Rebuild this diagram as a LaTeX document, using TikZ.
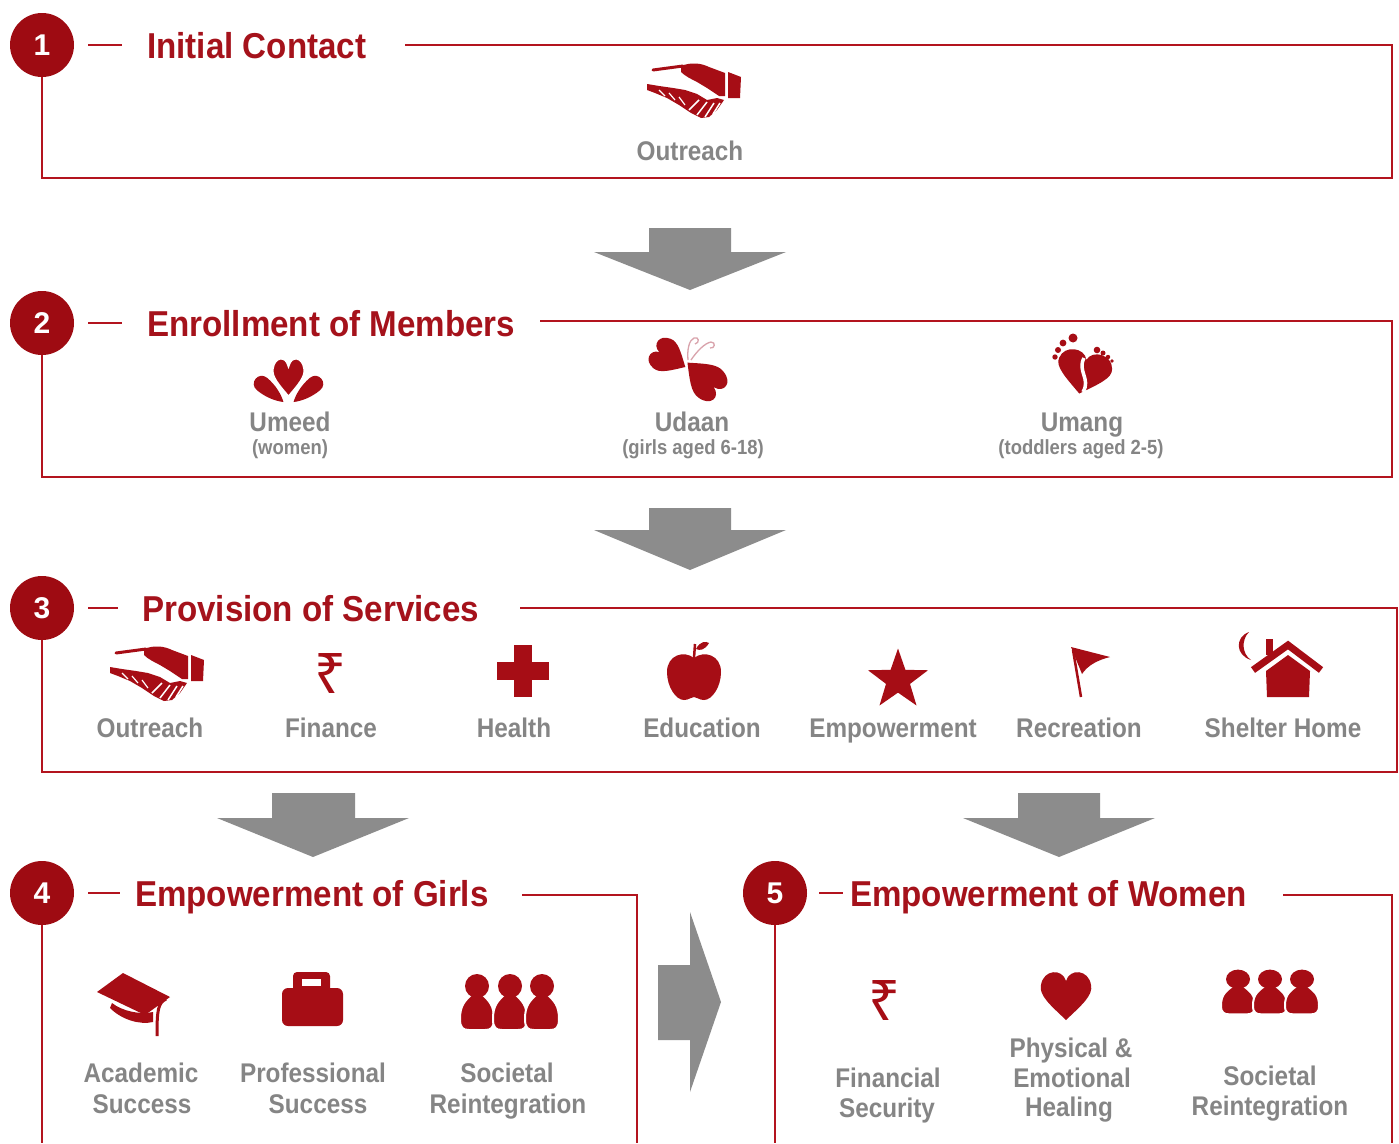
\documentclass[tikz,border=0pt]{standalone}
\usepackage{fontspec}
\setmainfont{Liberation Sans}
\newfontfamily\rupfont{Noto Sans}
\usetikzlibrary{shapes.geometric}
\definecolor{boxred}{HTML}{B3141E}
\definecolor{numred}{HTML}{9E0B12}
\definecolor{titred}{HTML}{A5121B}
\definecolor{iconred}{HTML}{A60D15}
\definecolor{labgray}{HTML}{858585}
\definecolor{arrgray}{HTML}{8C8C8C}
\definecolor{antpink}{HTML}{D9A3AC}
\newcommand{\sxx}[1]{\scalebox{0.9}[1]{#1}}
\newcommand{\sxt}[1]{\scalebox{0.92}[1]{#1}}
\newcommand{\heartshape}[1]{\path[#1] (0,1) .. controls (-0.6,0.45) and (-1.1,0.05) .. (-1,-0.35) .. controls (-0.9,-0.95) and (-0.15,-1.0) .. (0,-0.5) .. controls (0.15,-1.0) and (0.9,-0.95) .. (1,-0.35) .. controls (1.1,0.05) and (0.6,0.45) .. (0,1) -- cycle;}
\newcommand{\personshape}{%
  \path[fill=iconred,draw=white,line width=2pt] (-6,8) .. controls (-12,14) and (-17,18) .. (-17,32) .. controls (-17,41) and (-14,43) .. (-8,43) -- (8,43) .. controls (14,43) and (17,41) .. (17,32) .. controls (17,18) and (12,14) .. (6,8) -- cycle;
  \path[fill=iconred] (0,-1) circle[radius=12];}
\newcommand{\handshape}{%
  \draw[iconred, line width=3pt, line cap=round] (-42,-18) -- (-12,-22);
  \fill[iconred] (-14,-22) .. controls (-4,-26) and (6,-25) .. (14,-21) -- (30,-15) -- (30,8) -- (24,8) -- (12,0) -- (2,-6) .. controls (-4,-9) and (-10,-12) .. (-14,-16) -- cycle;
  \fill[iconred] (33,-16) -- (46,-11) -- (45,10) -- (33,10) -- cycle;
  \fill[iconred] (-48,2) -- (-40,5) -- (-28,10) -- (-16,17) -- (-4,25) -- (6,30) -- (14,29) -- (22,22) -- (29,12) -- (22,10) -- (12,12) -- (2,6) -- (-10,2) -- (-22,0) -- (-36,-2) -- (-48,-4) -- cycle;
  \draw[white, line width=1.5pt] (-6,22) -- (4,12) (2,27) -- (12,14) (10,29) -- (19,15) (18,26) -- (25,15);
  \draw[white, line width=1.2pt] (-36,2) -- (-30,8) (-26,5) -- (-20,12) (-16,9) -- (-10,17);}
\begin{document}
\begin{tikzpicture}[x=1pt,y=-1pt,
  numc/.style={circle,fill=numred,minimum size=64pt,inner sep=0pt,text=white,font=\bfseries\fontsize{30}{30}\selectfont},
  titlenode/.style={anchor=base west,inner sep=0pt,text=titred,font=\bfseries\fontsize{36}{36}\selectfont},
  boxline/.style={draw=boxred,line width=2.6pt},
  lab/.style={anchor=base,inner sep=0pt,text=labgray,font=\bfseries\fontsize{27}{30}\selectfont},
  sublab/.style={anchor=base,inner sep=0pt,text=labgray,font=\bfseries\fontsize{20.5}{22}\selectfont},
  rupee/.style={inner sep=0pt,text=iconred,font=\rupfont\fontsize{56}{56}\selectfont},
  bigarrow/.style={fill=arrgray}
]
\fill[white] (0,0) rectangle (1399,1143);
\useasboundingbox (0,0) rectangle (1399,1143);

% ---------- Box 1
\node[numc] (n1) at (42,45) {1};
\node[titlenode] (t1) at (147,58) {\sxt{Initial Contact}};
\coordinate (r1) at (405,45);
\coordinate (c1) at (1392,178);
\draw[boxline] ([xshift=14pt]n1.east) -- +(34,0);
\draw[boxline] (r1) -| (c1) -| (n1.south);
\begin{scope}[shift={(695,88)}] \handshape \end{scope}
\node[lab] (o1) at (690,160) {\sxx{Outreach}};

% arrow 1
\fill[bigarrow] (649,228) -- (731,228) -- (731,252) -- (786,252) -- (690,290) -- (594,252) -- (649,252) -- cycle;

% ---------- Box 2
\node[numc] (n2) at (42,323) {2};
\node[titlenode] (t2) at (147,336) {\sxt{Enrollment of Members}};
\coordinate (r2) at (540,321);
\coordinate (c2) at (1392,477);
\draw[boxline] ([xshift=14pt]n2.east) -- +(34,0);
\draw[boxline] (r2) -| (c2) -| (n2.south);

% Umeed icon
\begin{scope}[shift={(262,384)}, rotate=-40]
  \fill[iconred] (0,-8) .. controls (12,-8) and (22,-4) .. (28,0) .. controls (22,4) and (12,8) .. (0,8) .. controls (-11,8) and (-11,-8) .. (0,-8) -- cycle;
\end{scope}
\begin{scope}[shift={(315,384)}, rotate=-140]
  \fill[iconred] (0,-8) .. controls (12,-8) and (22,-4) .. (28,0) .. controls (22,4) and (12,8) .. (0,8) .. controls (-11,8) and (-11,-8) .. (0,-8) -- cycle;
\end{scope}
\begin{scope}[shift={(288.5,376)}, xscale=16, yscale=21]
  \heartshape{fill=iconred, draw=white, line width=2.5pt}
\end{scope}
\node[lab] (u1) at (290,431) {\sxx{Umeed}};
\node[sublab] (u1s) at (290,454) {\sxx{(women)}};

% Udaan butterfly
\draw[antpink, line width=1.3pt] (688,360) .. controls (687,350) and (689,340) .. (694,338) .. controls (699,336) and (700,343) .. (695,344);
\draw[antpink, line width=1.3pt] (691,360) .. controls (697,351) and (705,343) .. (711,342) .. controls (716,342) and (715,349) .. (710,348);
\begin{scope}[shift={(668,357)}, rotate=60, xscale=17, yscale=20]
  \heartshape{fill=iconred}
\end{scope}
\begin{scope}[shift={(705,379)}, rotate=-133, xscale=18, yscale=24]
  \heartshape{fill=iconred}
\end{scope}
\node[lab] (u2) at (692,431) {\sxx{Udaan}};
\node[sublab] (u2s) at (693,454) {\sxx{(girls aged 6-18)}};

% Umang footprints
\begin{scope}[shift={(1084,371)}, rotate=-12, xscale=27, yscale=23]
  \heartshape{fill=iconred}
\end{scope}
\draw[white, line width=3.5pt] (1084,358) .. controls (1077,371) and (1091,379) .. (1083,392);
\fill[iconred] (1055,357) circle[radius=2.7] (1058,350) circle[radius=3] (1063,343) circle[radius=3.4] (1073,338) circle[radius=4.5];
\fill[iconred] (1097,350) circle[radius=3.3] (1103,353) circle[radius=2.5] (1108,357) circle[radius=2.2] (1112,361) circle[radius=1.8];
\node[lab] (u3) at (1082,431) {\sxx{Umang}};
\node[sublab] (u3s) at (1081,454) {\sxx{(toddlers aged 2-5)}};

% arrow 2
\fill[bigarrow] (649,508) -- (731,508) -- (731,530) -- (786,530) -- (690,570) -- (594,530) -- (649,530) -- cycle;

% ---------- Box 3
\node[numc] (n3) at (42,608) {3};
\node[titlenode] (t3) at (142,621) {\sxt{Provision of Services}};
\coordinate (r3) at (520,608);
\coordinate (c3) at (1397,772);
\draw[boxline] ([xshift=14pt]n3.east) -- +(30,0);
\draw[boxline] (r3) -| (c3) -| (n3.south);

\begin{scope}[shift={(158,671)}] \handshape \end{scope}
\node[rupee] (rp1) at (331,673) {₹};
\fill[iconred] (497,662) rectangle (549,680);
\fill[iconred] (514,645) rectangle (532,697);
% apple
\begin{scope}[shift={(694,675)}]
  \fill[iconred] (0,-17) .. controls (-10,-25) and (-27,-20) .. (-27,-3) .. controls (-27,12) and (-18,25) .. (-10,25) .. controls (-5,25) and (-3,22) .. (0,22) .. controls (3,22) and (5,25) .. (10,25) .. controls (18,25) and (27,12) .. (27,-3) .. controls (27,-20) and (10,-25) .. (0,-17) -- cycle;
  \draw[iconred, line width=2.5pt] (0,-17) -- (1,-31);
  \fill[iconred] (2,-26) .. controls (6,-34) and (12,-34) .. (15,-32) .. controls (11,-25) and (6,-24) .. (2,-26) -- cycle;
\end{scope}
\node[star, star points=5, star point ratio=2.5, fill=iconred, minimum size=63pt, inner sep=0pt] (st) at (898,680) {};
% flag
\draw[iconred, line width=2.5pt] (1073,650) -- (1081,697);
\fill[iconred] (1071,647) -- (1110,657) .. controls (1098,660) and (1088,665) .. (1082,674) -- cycle;
% house
\fill[iconred] (1266,639) rectangle (1273,655);
\draw[iconred, line width=7pt] (1253,670) -- (1288,645) -- (1321,670);
\fill[iconred] (1288,655) -- (1310,671) -- (1309,697) -- (1267,697) -- (1266,671) -- cycle;
\fill[iconred] (1249,632) .. controls (1235,637) and (1235,655) .. (1251,660) .. controls (1242,654) and (1241,640) .. (1249,632) -- cycle;

\node[lab] (s1) at (150,737) {\sxx{Outreach}};
\node[lab] (s2) at (331,737) {\sxx{Finance}};
\node[lab] (s3) at (514,737) {\sxx{Health}};
\node[lab] (s4) at (702,737) {\sxx{Education}};
\node[lab] (s5) at (893,737) {\sxx{Empowerment}};
\node[lab] (s6) at (1079,737) {\sxx{Recreation}};
\node[lab] (s7) at (1283,737) {\sxx{Shelter Home}};

% arrows 3, 4
\fill[bigarrow] (272,793) -- (355,793) -- (355,818) -- (409,818) -- (313,857) -- (217,818) -- (272,818) -- cycle;
\fill[bigarrow] (1018,793) -- (1100,793) -- (1100,818) -- (1155,818) -- (1059,857) -- (963,818) -- (1018,818) -- cycle;

% ---------- Box 4
\node[numc] (n4) at (42,893) {4};
\node[titlenode] (t4) at (135,906) {\sxt{Empowerment of Girls}};
\coordinate (r4) at (522,895);
\coordinate (c4) at (637,1143);
\coordinate (b4) at (42,1143);
\draw[boxline] ([xshift=14pt]n4.east) -- +(32,0);
\draw[boxline] (r4) -| (c4);
\draw[boxline] (n4.south) -- (b4);

% mortarboard
\fill[iconred] (97,992) -- (123,973) -- (170,997) -- (145,1015) -- cycle;
\fill[iconred] (110,1008) .. controls (122,1020) and (140,1025) .. (153,1022) -- (153,1012) .. controls (140,1015) and (122,1011) .. (112,1003) -- cycle;
\draw[iconred, line width=3pt] (166,999) .. controls (158,1003) and (157,1010) .. (157,1036);
% briefcase
\fill[iconred, rounded corners=4pt] (293,972) rectangle (330,992);
\fill[white] (302,979) rectangle (321,986);
\fill[iconred, rounded corners=6pt] (282,988) rectangle (343,1026);
% people
\begin{scope}[shift={(477,987)}] \personshape \end{scope}
\begin{scope}[shift={(510,987)}] \personshape \end{scope}
\begin{scope}[shift={(542,987)}] \personshape \end{scope}

\node[lab] (g1a) at (141,1082) {\sxx{Academic}};
\node[lab] (g1b) at (142,1113) {\sxx{Success}};
\node[lab] (g2a) at (313,1082) {\sxx{Professional}};
\node[lab] (g2b) at (318,1113) {\sxx{Success}};
\node[lab] (g3a) at (507,1082) {\sxx{Societal}};
\node[lab] (g3b) at (508,1113) {\sxx{Reintegration}};

% arrow 5 (right)
\fill[bigarrow] (658,965) -- (690,965) -- (690,912) -- (721,1002) -- (690,1092) -- (690,1040) -- (658,1040) -- cycle;

% ---------- Box 5
\node[numc] (n5) at (775,893) {5};
\node[titlenode] (t5) at (850,906) {\sxt{Empowerment of Women}};
\coordinate (r5) at (1283,895);
\coordinate (c5) at (1392,1143);
\coordinate (b5) at (775,1143);
\draw[boxline] ([xshift=12pt]n5.east) -- +(24,0);
\draw[boxline] (r5) -| (c5);
\draw[boxline] (n5.south) -- (b5);

\node[rupee] (rp2) at (885,1000) {₹};
\begin{scope}[shift={(1066,994)}, xscale=25, yscale=26]
  \heartshape{fill=iconred}
\end{scope}
\begin{scope}[shift={(1238,980)}, yscale=0.8] \personshape \end{scope}
\begin{scope}[shift={(1270,980)}, yscale=0.8] \personshape \end{scope}
\begin{scope}[shift={(1302,980)}, yscale=0.8] \personshape \end{scope}

\node[lab] (w1a) at (888,1087) {\sxx{Financial}};
\node[lab] (w1b) at (887,1117) {\sxx{Security}};
\node[lab] (w2a) at (1071,1057) {\sxx{Physical \&}};
\node[lab] (w2b) at (1072,1087) {\sxx{Emotional}};
\node[lab] (w2c) at (1069,1116) {\sxx{Healing}};
\node[lab] (w3a) at (1270,1085) {\sxx{Societal}};
\node[lab] (w3b) at (1270,1115) {\sxx{Reintegration}};
\end{tikzpicture}
\end{document}
